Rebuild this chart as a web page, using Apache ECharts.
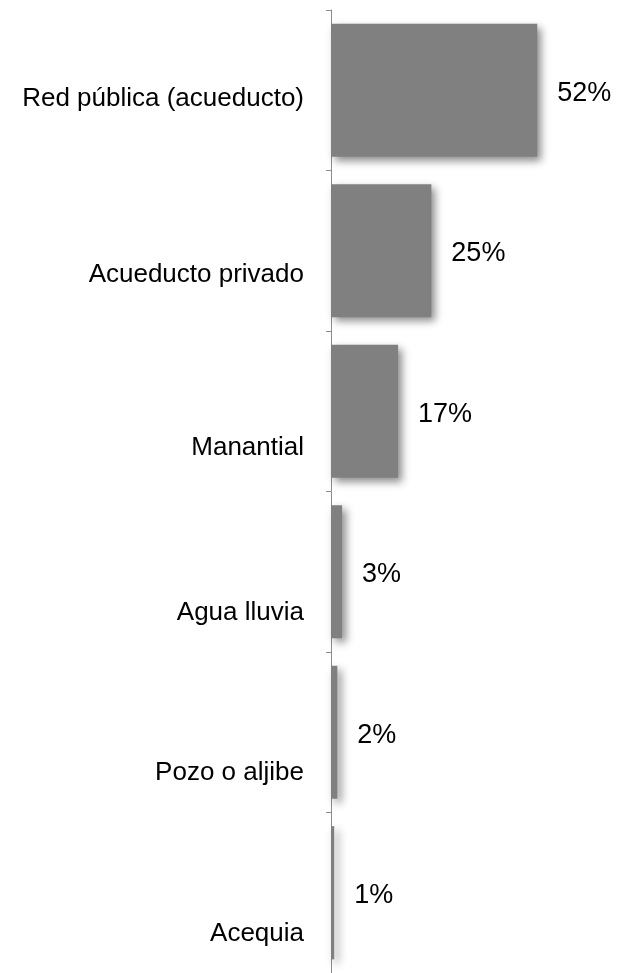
<!DOCTYPE html>
<html>
<head>
<meta charset="utf-8">
<script src="https://cdn.jsdelivr.net/npm/echarts@6/dist/echarts.min.js"></script>
<style>
  html, body { margin: 0; padding: 0; background: #fff; }
  #chart { width: 619px; height: 973px; }
</style>
</head>
<body>
<div id="chart"></div>
<script>
const categories = ['Red pública (acueducto)', 'Acueducto privado', 'Manantial', 'Agua lluvia', 'Pozo o aljibe', 'Acequia'];
const values = [52, 25.3, 16.9, 2.8, 1.6, 0.8];

// vertical shift (px) of each category label below its band centre
const labelShift = [9, 24, 37, 41, 41, 41];

const rich = {};
labelShift.forEach((s, i) => {
  rich['s' + i] = {
    padding: [s * 2, 0, 0, 0],
    fontSize: 26,
    color: '#000',
    fontFamily: 'Liberation Sans, Arial, sans-serif'
  };
});

const chart = echarts.init(document.getElementById('chart'), null, { renderer: 'canvas' });
chart.setOption({
  animation: false,
  backgroundColor: '#ffffff',
  grid: { left: 331, right: 50, top: 10, bottom: -3, containLabel: false },
  xAxis: {
    type: 'value', min: 0, max: 60, show: false
  },
  yAxis: {
    type: 'category',
    inverse: true,
    data: categories,
    axisLine: { show: true, lineStyle: { color: '#8c8c8c', width: 1 } },
    axisTick: { show: true, length: 5, inside: false, lineStyle: { color: '#8c8c8c' } },
    axisLabel: {
      margin: 27,
      color: '#000',
      fontSize: 26,
      fontFamily: 'Liberation Sans, Arial, sans-serif',
      verticalAlign: 'middle',
      formatter: (v, i) => '{s' + i + '|' + v + '}',
      rich: rich
    },
    splitLine: { show: false }
  },
  series: [{
    type: 'bar',
    data: values,
    barCategoryGap: '17%',
    itemStyle: {
      color: '#808080',
      shadowColor: 'rgba(0,0,0,0.45)',
      shadowBlur: 8,
      shadowOffsetX: 4,
      shadowOffsetY: 4
    },
    label: {
      show: true,
      position: 'right',
      distance: 20,
      offset: [0, 3],
      color: '#000',
      fontSize: 27,
      fontFamily: 'Liberation Sans, Arial, sans-serif',
      formatter: p => Math.round(p.value) + '%'
    }
  }]
});
</script>
</body>
</html>
